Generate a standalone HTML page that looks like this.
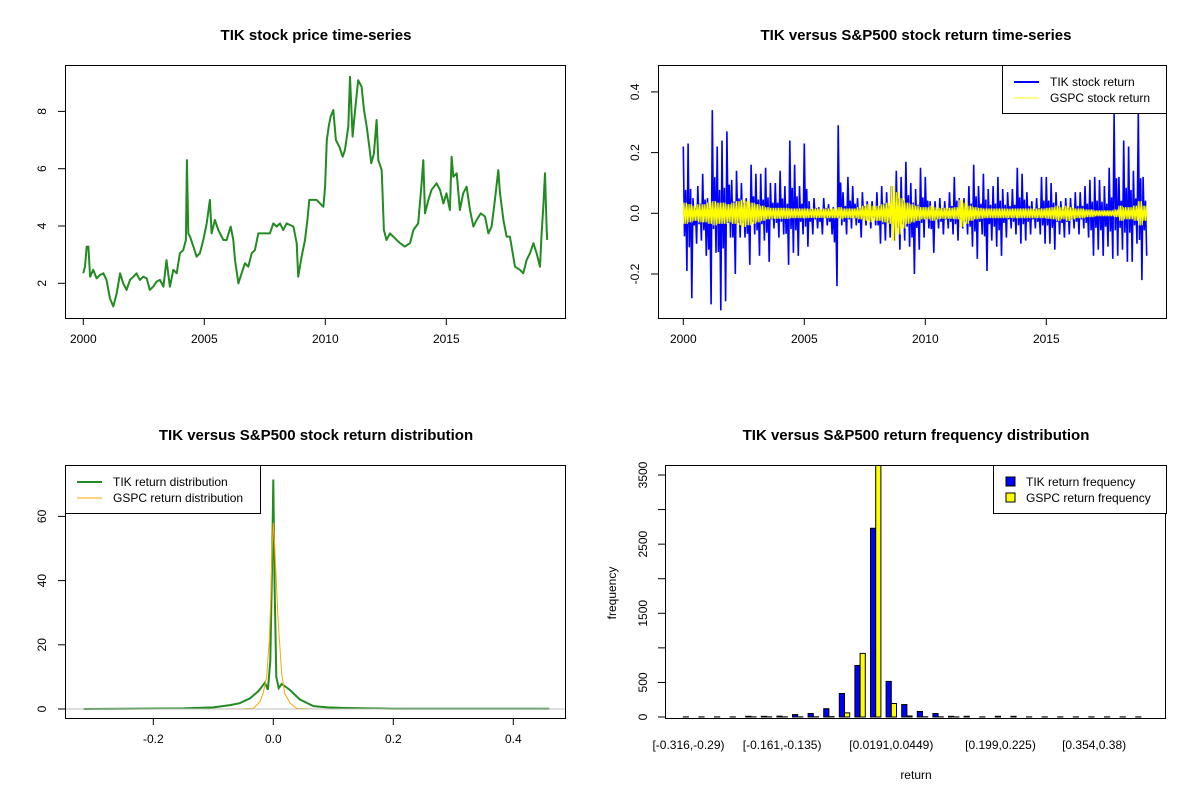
<!DOCTYPE html>
<html><head><meta charset="utf-8"><style>
html,body{margin:0;padding:0;background:#fff}
svg{display:block;font-family:"Liberation Sans",Arial,sans-serif}
</style></head><body>
<svg id="chart" width="1200" height="800" viewBox="0 0 1200 800" xmlns="http://www.w3.org/2000/svg"></svg>
<script>
// ---------- Panel 1: price ----------
const priceYears=[2000.00,2000.07,2000.14,2000.21,2000.28,2000.41,2000.55,2000.69,2000.83,2000.96,2001.10,2001.24,2001.38,2001.52,2001.65,2001.79,2001.93,2002.07,2002.20,2002.34,2002.48,2002.62,2002.75,2002.89,2003.03,2003.17,2003.31,2003.44,2003.58,2003.72,2003.86,2003.99,2004.13,2004.24,2004.28,2004.34,2004.41,2004.55,2004.68,2004.82,2004.96,2005.10,2005.23,2005.30,2005.44,2005.58,2005.79,2005.92,2006.09,2006.20,2006.27,2006.41,2006.54,2006.68,2006.82,2006.96,2007.09,2007.23,2007.44,2007.71,2007.85,2007.99,2008.13,2008.26,2008.40,2008.68,2008.82,2008.88,2009.02,2009.16,2009.26,2009.34,2009.48,2009.64,2009.78,2009.92,2009.99,2010.06,2010.14,2010.22,2010.33,2010.44,2010.58,2010.72,2010.81,2010.95,2011.02,2011.13,2011.23,2011.36,2011.50,2011.60,2011.71,2011.82,2011.90,2012.01,2012.12,2012.19,2012.33,2012.42,2012.53,2012.67,2012.81,2012.95,2013.09,2013.29,2013.50,2013.64,2013.84,2013.98,2014.05,2014.12,2014.26,2014.39,2014.60,2014.74,2014.88,2015.01,2015.15,2015.22,2015.29,2015.43,2015.56,2015.70,2015.84,2015.98,2016.12,2016.25,2016.42,2016.60,2016.74,2016.87,2017.01,2017.15,2017.22,2017.36,2017.49,2017.63,2017.84,2018.04,2018.18,2018.32,2018.46,2018.60,2018.73,2018.87,2018.94,2019.01,2019.08,2019.15,2019.17];
const priceValues=[2.35,2.58,3.28,3.28,2.23,2.47,2.17,2.29,2.35,2.12,1.48,1.19,1.65,2.35,2.00,1.77,2.12,2.23,2.35,2.12,2.23,2.17,1.77,1.88,2.06,2.12,1.88,2.81,1.88,2.47,2.35,3.05,3.16,3.51,6.30,3.74,3.63,3.28,2.93,3.05,3.51,4.09,4.91,3.74,4.21,3.86,3.51,3.51,3.98,3.51,2.81,2.00,2.35,2.70,2.58,3.05,3.16,3.74,3.74,3.74,4.09,3.98,4.09,3.86,4.09,3.98,3.40,2.23,2.93,3.51,4.21,4.91,4.91,4.91,4.79,4.67,5.37,7.00,7.47,7.81,8.05,7.00,6.77,6.42,6.65,7.47,9.21,7.12,8.05,9.09,8.86,8.05,7.47,6.77,6.19,6.53,7.70,6.30,5.95,3.86,3.51,3.74,3.63,3.51,3.40,3.28,3.40,3.86,4.09,5.49,6.30,4.44,4.91,5.26,5.49,5.26,4.79,5.14,4.56,6.42,5.72,5.84,4.56,5.14,5.37,4.56,3.98,4.21,4.44,4.33,3.74,3.98,4.91,5.95,5.14,4.21,3.63,3.63,2.58,2.47,2.35,2.81,3.05,3.40,3.05,2.58,3.74,4.67,5.84,3.86,3.51];
const priceYTicks=[2,4,6,8];
const yearTicks=[2000,2005,2010,2015];
// ---------- Panel 2: returns (5 bins per year from 2000) ----------
const tikHigh=[0.22,0.23,0.05,0.09,0.13,0.05,0.34,0.22,0.24,0.27,0.11,0.14,0.10,0.05,0.16,0.13,0.13,0.15,0.10,0.10,0.14,0.09,0.24,0.16,0.09,0.23,0.04,0.05,0.02,0.05,0.03,0.02,0.29,0.07,0.12,0.09,0.05,0.07,0.04,0.04,0.07,0.09,0.07,0.09,0.14,0.12,0.17,0.10,0.08,0.15,0.12,0.04,0.04,0.05,0.04,0.07,0.12,0.05,0.05,0.09,0.16,0.09,0.13,0.08,0.09,0.12,0.08,0.07,0.08,0.15,0.13,0.07,0.04,0.05,0.12,0.12,0.10,0.07,0.04,0.05,0.05,0.07,0.07,0.09,0.11,0.12,0.11,0.09,0.15,0.33,0.12,0.24,0.22,0.14,0.33,0.12];
const tikLow=[-0.19,-0.28,-0.10,-0.09,-0.14,-0.30,-0.13,-0.32,-0.29,-0.08,-0.20,-0.08,-0.08,-0.17,-0.07,-0.14,-0.09,-0.16,-0.05,-0.08,-0.07,-0.17,-0.13,-0.14,-0.07,-0.11,-0.07,-0.05,-0.07,-0.04,-0.07,-0.24,-0.04,-0.07,-0.05,-0.04,-0.08,-0.04,-0.05,-0.04,-0.10,-0.09,-0.08,-0.09,-0.12,-0.09,-0.11,-0.20,-0.12,-0.08,-0.05,-0.13,-0.05,-0.07,-0.05,-0.07,-0.09,-0.05,-0.07,-0.11,-0.15,-0.07,-0.19,-0.09,-0.11,-0.14,-0.08,-0.05,-0.07,-0.10,-0.09,-0.07,-0.05,-0.07,-0.10,-0.10,-0.12,-0.07,-0.08,-0.07,-0.05,-0.07,-0.05,-0.08,-0.14,-0.12,-0.14,-0.11,-0.15,-0.14,-0.12,-0.16,-0.16,-0.10,-0.22,-0.14];
const gspcAmp=[0.035,0.03,0.025,0.03,0.03,0.035,0.04,0.035,0.035,0.03,0.035,0.04,0.045,0.04,0.035,0.03,0.025,0.02,0.018,0.018,0.018,0.018,0.016,0.016,0.016,0.016,0.015,0.016,0.015,0.016,0.016,0.016,0.02,0.016,0.016,0.016,0.02,0.025,0.03,0.025,0.025,0.03,0.035,0.09,0.07,0.05,0.035,0.03,0.025,0.02,0.02,0.025,0.02,0.018,0.018,0.018,0.02,0.045,0.035,0.025,0.02,0.018,0.016,0.016,0.016,0.016,0.016,0.015,0.016,0.016,0.016,0.016,0.016,0.016,0.016,0.018,0.02,0.025,0.02,0.025,0.02,0.016,0.016,0.013,0.013,0.01,0.01,0.01,0.01,0.013,0.025,0.02,0.02,0.025,0.04,0.025];
const retYTicks=[-0.2,0.0,0.2,0.4];
const retYLabels=["-0.2","0.0","0.2","0.4"];
// ---------- Panel 3: densities ----------
const tikDensX=[-0.316,-0.15,-0.1,-0.072,-0.056,-0.039,-0.025,-0.014,-0.009,-0.005,-0.002,0,0.002,0.005,0.009,0.014,0.02,0.028,0.044,0.067,0.09,0.12,0.16,0.2,0.46];
const tikDensY=[0,0.2,0.5,1.2,1.8,3.3,5.5,8.2,6,15,45,71.5,40,10,6.5,7.8,7,5.9,3.0,0.9,0.5,0.3,0.2,0.1,0.05];
const gspcDensX=[-0.1,-0.05,-0.033,-0.022,-0.017,-0.011,-0.0067,-0.0045,-0.002,0,0.002,0.0045,0.008,0.014,0.019,0.028,0.039,0.07];
const gspcDensY=[0,0.05,0.2,2.3,4.9,10,21.5,33,50,58,52,42,27.7,11,4.9,1.8,0.2,0];
const densXTicks=[-0.2,0.0,0.2,0.4];
const densYTicks=[0,20,40,60];
// ---------- Panel 4: histogram ----------
const tikFreq=[2,2,2,2,10,10,12,35,50,120,340,745,2730,515,180,80,50,10,10,2,10,10,2,2,2,2,2,2,2,2];
const gspcFreq=[0,0,0,0,2,2,2,2,3,5,60,920,3650,195,15,3,2,2,0,0,0,0,0,0,0,0,0,0,0,0];
const binLabels=["[-0.316,-0.29)","[-0.161,-0.135)","[0.0191,0.0449)","[0.199,0.225)","[0.354,0.38)"];
const binLabelIdx=[0,6,13,20,26];
const freqTicks=[0,500,1000,1500,2000,2500,3000,3500];
const freqLabels=["0","500","","1500","","2500","","3500"];

const svg=document.getElementById('chart');
const NS='http://www.w3.org/2000/svg';
function mk(tag,attrs,parent){const e=document.createElementNS(NS,tag);for(const k in attrs)e.setAttribute(k,attrs[k]);(parent||svg).appendChild(e);return e;}
function txt(s,x,y,opts,parent){const t=mk('text',Object.assign({x:x,y:y,'font-size':12,'text-anchor':'middle',fill:'#000'},opts||{}),parent);t.textContent=s;return t;}
function g(name){const e=mk('g',{});return e;}

// ===== Panel 1 =====
{
const P=g('price-panel');
const x=yr=>83.3+(yr-2000)*24.2;
const y=v=>283.3-(v-2)*28.65;
const t=txt('TIK stock price time-series',316,40,{'font-size':15,'font-weight':'bold'},P);


const r=mk('rect',{x:65.5,y:65.5,width:500,height:253,fill:'none',stroke:'#000'},P);


let d='';priceYears.forEach((yr,i)=>{d+=(i?'L':'M')+x(yr).toFixed(1)+','+y(priceValues[i]).toFixed(1);});
const line=mk('path',{d:d,fill:'none',stroke:'#228B22','stroke-width':2,'stroke-linejoin':'round'},P);


yearTicks.forEach(v=>{mk('line',{x1:x(v),x2:x(v),y1:318.5,y2:325,stroke:'#000'},P);const l=txt(String(v),x(v),343,{},P);});
mk('line',{x1:x(2000),x2:x(2015),y1:318.5,y2:318.5,stroke:'#000'},P);
priceYTicks.forEach(v=>{mk('line',{x1:58,x2:65.5,y1:y(v),y2:y(v),stroke:'#000'},P);const l=txt(String(v),0,0,{transform:'translate(46,'+y(v)+') rotate(-90)'},P);});
mk('line',{x1:65.5,x2:65.5,y1:y(2),y2:y(8),stroke:'#000'},P);
}
// ===== Panel 2 =====
{
const P=g('return-panel');
const x=yr=>683.3+(yr-2000)*24.2;
const y=v=>213.3-v*303.5;
const t=txt('TIK versus S&P500 stock return time-series',916,40,{'font-size':15,'font-weight':'bold'},P);


const step=0.2;
let d='';tikHigh.forEach((h,i)=>{const t0=2000+i*step;d+=(i?'L':'M')+x(t0).toFixed(1)+','+y(h).toFixed(1)+'L'+x(t0+step*0.25).toFixed(1)+','+y(tikLow[i]*0.4).toFixed(1)+'L'+x(t0+step*0.5).toFixed(1)+','+y(tikHigh[i]*0.35).toFixed(1)+'L'+x(t0+step*0.75).toFixed(1)+','+y(tikLow[i]).toFixed(1);});
const bl=mk('path',{d:d,fill:'none',stroke:'#0000FF','stroke-width':1.6},P);


let d2='';gspcAmp.forEach((a,i)=>{const t0=2000+i*step;for(let k=0;k<6;k++){d2+=((i||k)?'L':'M')+x(t0+k*step/6).toFixed(1)+','+y(k%2?-a:a).toFixed(1);}});
const yl=mk('path',{d:d2,fill:'none',stroke:'#FFFF00','stroke-width':1},P);


const r=mk('rect',{x:658.5,y:65.5,width:508,height:253,fill:'none',stroke:'#000'},P);


yearTicks.forEach(v=>{mk('line',{x1:x(v),x2:x(v),y1:318.5,y2:325,stroke:'#000'},P);const l=txt(String(v),x(v),343,{},P);});
mk('line',{x1:x(2000),x2:x(2015),y1:318.5,y2:318.5,stroke:'#000'},P);
retYTicks.forEach((v,i)=>{mk('line',{x1:651,x2:658.5,y1:y(v),y2:y(v),stroke:'#000'},P);const l=txt(retYLabels[i],0,0,{transform:'translate(639,'+y(v)+') rotate(-90)'},P);});
mk('line',{x1:658.5,x2:658.5,y1:y(-0.2),y2:y(0.4),stroke:'#000'},P);
const L=mk('g',{},P);
mk('rect',{x:1002.5,y:65.5,width:164,height:48,fill:'#fff',stroke:'#000'},L);
mk('line',{x1:1014,x2:1039,y1:82,y2:82,stroke:'#0000FF','stroke-width':2},L);
mk('line',{x1:1014,x2:1039,y1:98,y2:98,stroke:'#FFFF00','stroke-width':1},L);
txt('TIK stock return',1050,86,{'text-anchor':'start'},L);
txt('GSPC stock return',1050,102,{'text-anchor':'start'},L);
}
// ===== Panel 3 =====
{
const P=g('density-panel');
const x=v=>273.3+v*600;
const y=v=>709-v*3.21;
const t=txt('TIK versus S&P500 stock return distribution',316,440,{'font-size':15,'font-weight':'bold'},P);


let d='';tikDensX.forEach((v,i)=>{d+=(i?'L':'M')+x(v).toFixed(1)+','+y(tikDensY[i]).toFixed(1);});
const gl=mk('path',{d:d,fill:'none',stroke:'#228B22','stroke-width':2},P);


let d2='';gspcDensX.forEach((v,i)=>{d2+=(i?'L':'M')+x(v).toFixed(1)+','+y(gspcDensY[i]).toFixed(1);});
const ol=mk('path',{d:d2,fill:'none',stroke:'#FFA500','stroke-width':1},P);


const zl=mk('line',{x1:66,x2:566,y1:y(0),y2:y(0),stroke:'#BEBEBE'},P);


const r=mk('rect',{x:65.5,y:465.5,width:500,height:253,fill:'none',stroke:'#000'},P);


densXTicks.forEach(v=>{mk('line',{x1:x(v),x2:x(v),y1:718.5,y2:725,stroke:'#000'},P);const l=txt(v===0?'0.0':String(v),x(v),743,{},P);});
mk('line',{x1:x(-0.2),x2:x(0.4),y1:718.5,y2:718.5,stroke:'#000'},P);
densYTicks.forEach(v=>{mk('line',{x1:58,x2:65.5,y1:y(v),y2:y(v),stroke:'#000'},P);const l=txt(String(v),0,0,{transform:'translate(46,'+y(v)+') rotate(-90)'},P);});
mk('line',{x1:65.5,x2:65.5,y1:y(0),y2:y(60),stroke:'#000'},P);
const L=mk('g',{},P);
mk('rect',{x:65.5,y:465.5,width:195,height:48,fill:'#fff',stroke:'#000'},L);
mk('line',{x1:77,x2:102,y1:482,y2:482,stroke:'#228B22','stroke-width':2},L);
mk('line',{x1:77,x2:102,y1:498,y2:498,stroke:'#FFA500','stroke-width':1},L);
txt('TIK return distribution',113,486,{'text-anchor':'start'},L);
txt('GSPC return distribution',113,502,{'text-anchor':'start'},L);
}
// ===== Panel 4 =====
{
const P=g('histogram-panel');
const bx=k=>683.3+k*15.6;
const bw=5.2;
const y=v=>717-v*0.06914;
const t=txt('TIK versus S&P500 return frequency distribution',916,440,{'font-size':15,'font-weight':'bold'},P);


const clip=mk('clipPath',{id:'hclip'},P);mk('rect',{x:665,y:465,width:502,height:254},clip);
const B=mk('g',{'clip-path':'url(#hclip)'},P);
tikFreq.forEach((v,k)=>{
 const b=mk('rect',{x:bx(k),y:y(v),width:bw,height:Math.max(0,y(0)-y(v)),fill:'#0000FF',stroke:'#000','stroke-width':1},B);
 
 
 const c=mk('rect',{x:bx(k)+bw,y:y(gspcFreq[k]),width:bw,height:Math.max(0,y(0)-y(gspcFreq[k])),fill:'#FFFF00',stroke:'#000','stroke-width':1},B);
 
 
});
const r=mk('rect',{x:665.5,y:465.5,width:500,height:253,fill:'none',stroke:'#000'},P);


freqTicks.forEach((v,i)=>{mk('line',{x1:658,x2:665.5,y1:y(v),y2:y(v),stroke:'#000'},P);if(freqLabels[i]){const l=txt(freqLabels[i],0,0,{transform:'translate(647,'+y(v)+') rotate(-90)'},P);}});
mk('line',{x1:665.5,x2:665.5,y1:y(0),y2:y(3500),stroke:'#000'},P);
binLabels.forEach((s,i)=>{const l=txt(s,bx(binLabelIdx[i])+bw,749,{},P);});
const xl=txt('return',916,779,{},P);
const ylb=txt('frequency',0,0,{transform:'translate(616,593) rotate(-90)'},P);
const L=mk('g',{},P);
mk('rect',{x:993.5,y:465.5,width:173,height:48,fill:'#fff',stroke:'#000'},L);
mk('rect',{x:1006,y:477,width:9,height:9,fill:'#0000FF',stroke:'#000'},L);
mk('rect',{x:1006,y:493,width:9,height:9,fill:'#FFFF00',stroke:'#000'},L);
txt('TIK return frequency',1026,486,{'text-anchor':'start'},L);
txt('GSPC return frequency',1026,502,{'text-anchor':'start'},L);
}
</script>
</body></html>
